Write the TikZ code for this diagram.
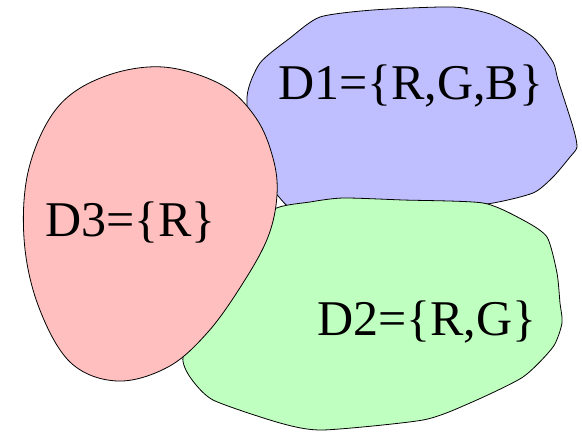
\documentclass[tikz,border=0pt]{standalone}
\usepackage{fontspec}
\setmainfont{Liberation Serif}
\begin{document}
\begin{tikzpicture}[x=1pt,y=-1pt,
  region/.style={draw=black,line width=0.8pt,line join=round},
  lbl/.style={inner sep=0pt,anchor=base west,font=\fontsize{50}{56}\selectfont}]
\definecolor{dblue}{RGB}{191,191,255}
\definecolor{dgreen}{RGB}{191,255,191}
\definecolor{dred}{RGB}{255,191,191}
\useasboundingbox (0,0) rectangle (582,433);
% D1 blue
\draw[region,fill=dblue] plot[smooth cycle,tension=0.4] coordinates {
 (320,17) (373,10) (453,7) (493,15) (533,37) (553,62) (558,80) (573,127)
 (577,147) (570,157) (553,177) (533,193) (487,204) (400,212) (300,215)
 (255,160) (247,97) (260,63) (290,38)};
% D2 green
\draw[region,fill=dgreen] plot[smooth cycle,tension=0.4] coordinates {
 (273,210) (310,202) (343,198) (403,200) (483,203) (523,220) (547,237)
 (557,273) (560,303) (562,323) (553,347) (523,377) (470,403) (423,420)
 (323,430) (280,423) (213,400) (190,377) (183,357) (200,320) (250,250)};
% D3 red
\draw[region,fill=dred] plot[smooth cycle,tension=0.6] coordinates {
 (163,67) (222,85) (256,118) (273,158) (277,195) (268,237) (243,283)
 (208,332) (168,367) (117,381) (70,362) (38,305) (24,238) (29,168)
 (57,108) (103,77)};
\node[lbl] (d1) at (278,100) {D1=\{R,G,B\}};
\node[lbl] (d2) at (317,335) {D2=\{R,G\}};
\node[lbl] (d3) at (45,237) {D3=\{R\}};
\end{tikzpicture}
\end{document}
